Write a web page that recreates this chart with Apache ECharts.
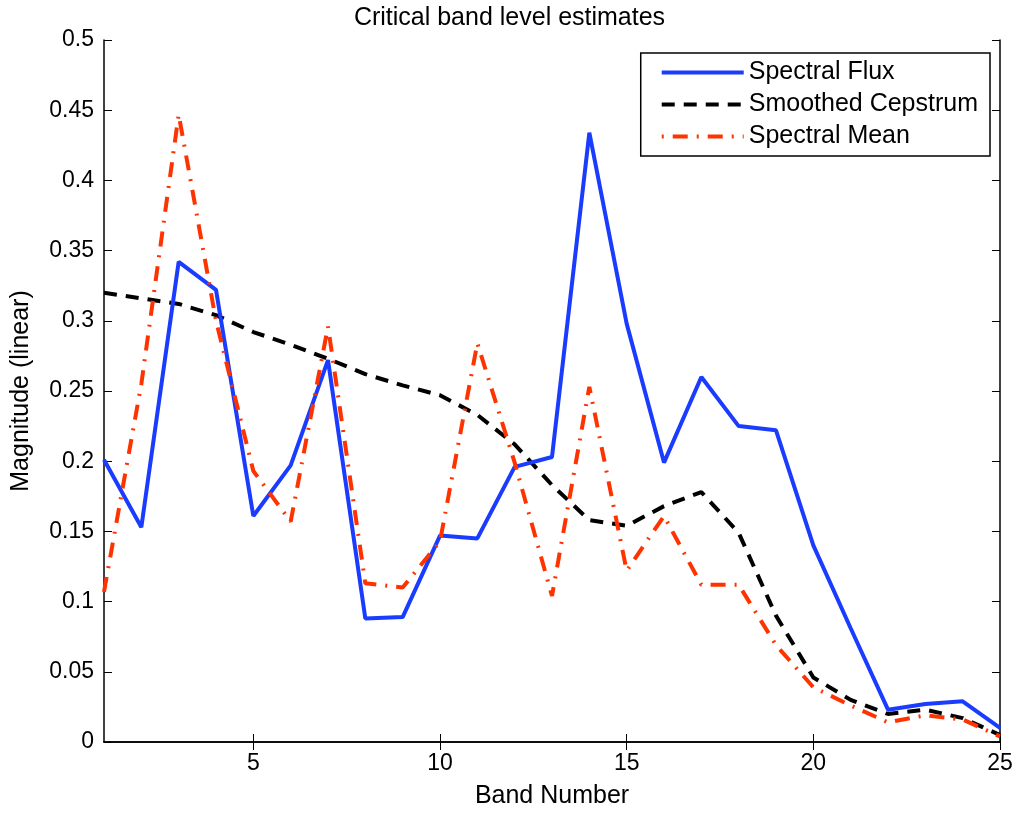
<!DOCTYPE html>
<html>
<head>
<meta charset="utf-8">
<script src="https://cdn.jsdelivr.net/npm/echarts@6/dist/echarts.min.js"></script>
<style>
  html, body { margin: 0; padding: 0; background: #fff; }
  #chart { width: 1019px; height: 814px; }
</style>
</head>
<body>
<div id="chart"></div>
<script>
const bands = [1, 2, 3, 4, 5, 6, 7, 8, 9, 10, 11, 12, 13, 14, 15, 16, 17, 18, 19, 20, 21, 22, 23, 24, 25];
const spectralFlux = [0.201, 0.153, 0.342, 0.322, 0.161, 0.197, 0.272, 0.088, 0.089, 0.147, 0.145, 0.196, 0.203, 0.434, 0.298, 0.199, 0.260, 0.225, 0.222, 0.140, 0.081, 0.023, 0.027, 0.029, 0.010];
const smoothedCepstrum = [0.320, 0.316, 0.312, 0.304, 0.292, 0.283, 0.273, 0.262, 0.254, 0.247, 0.233, 0.212, 0.183, 0.158, 0.154, 0.168, 0.178, 0.149, 0.090, 0.046, 0.030, 0.020, 0.023, 0.017, 0.005];
const spectralMean = [0.107, 0.255, 0.447, 0.300, 0.193, 0.157, 0.296, 0.113, 0.110, 0.143, 0.284, 0.199, 0.104, 0.253, 0.122, 0.161, 0.112, 0.112, 0.069, 0.039, 0.026, 0.014, 0.019, 0.016, 0.004];
const xTicks = [5, 10, 15, 20, 25];

const font = 'Liberation Sans, Arial, Helvetica, sans-serif';
const blue = '#1a3cff';
const red = '#ff3300';
const dashBlack = [13, 9];
const dashRed = [15, 9, 2, 9];
const chart = echarts.init(document.getElementById('chart'));

function pairs(ys) {
  return bands.map((b, i) => [b, ys[i]]);
}

const axisLine = { show: true, lineStyle: { color: '#000', width: 1.5 } };
const tickStyle = { color: '#000', width: 1 };

chart.setOption({
  animation: false,
  title: {
    text: 'Critical band level estimates',
    left: 'center',
    top: 1,
    textStyle: { fontFamily: font, fontSize: 25, fontWeight: 'normal', color: '#000' }
  },
  legend: {
    orient: 'vertical',
    right: 29,
    top: 53,
    padding: [7, 12, 7, 19],
    itemGap: 7,
    itemWidth: 82,
    itemHeight: 14,
    borderColor: '#000',
    borderWidth: 1.5,
    backgroundColor: '#fff',
    itemStyle: { opacity: 0 },
    textStyle: { fontFamily: font, fontSize: 25, color: '#000' },
    data: [
      { name: 'Spectral Flux', lineStyle: { width: 4, color: blue, type: 'solid' } },
      { name: 'Smoothed Cepstrum', lineStyle: { width: 4, color: '#000', type: dashBlack } },
      { name: 'Spectral Mean', lineStyle: { width: 4, color: red, type: [2, 9, 15, 9] } }
    ]
  },
  grid: { left: 104, right: 19, top: 40, bottom: 69 },
  xAxis: [{
    type: 'value',
    min: 1,
    max: 25,
    name: 'Band Number',
    nameLocation: 'middle',
    nameGap: 42,
    nameTextStyle: { fontFamily: font, fontSize: 25, color: '#000' },
    axisLine: axisLine,
    axisTick: { inside: true, length: 8, customValues: xTicks, lineStyle: tickStyle },
    axisLabel: { customValues: xTicks, fontFamily: font, fontSize: 23, color: '#000', margin: 10 },
    splitLine: { show: false }
  }, {
    type: 'value',
    position: 'top',
    min: 1,
    max: 25,
    axisLine: axisLine,
    axisTick: { inside: true, length: 8, customValues: xTicks, lineStyle: tickStyle },
    axisLabel: { show: false },
    splitLine: { show: false }
  }],
  yAxis: [{
    type: 'value',
    min: 0,
    max: 0.5,
    interval: 0.05,
    name: 'Magnitude (linear)',
    nameLocation: 'middle',
    nameGap: 70,
    nameTextStyle: { fontFamily: font, fontSize: 25, color: '#000' },
    axisLine: axisLine,
    axisTick: { inside: true, length: 8, lineStyle: tickStyle },
    axisLabel: { fontFamily: font, fontSize: 23, color: '#000', margin: 10 },
    splitLine: { show: false }
  }, {
    type: 'value',
    position: 'right',
    min: 0,
    max: 0.5,
    interval: 0.05,
    axisLine: axisLine,
    axisTick: { inside: true, length: 8, lineStyle: tickStyle },
    axisLabel: { show: false },
    splitLine: { show: false }
  }],
  series: [{
    name: 'Spectral Flux',
    type: 'line',
    data: pairs(spectralFlux),
    symbol: 'none',
    color: blue,
    lineStyle: { width: 4, color: blue },
    z: 3
  }, {
    name: 'Smoothed Cepstrum',
    type: 'line',
    data: pairs(smoothedCepstrum),
    symbol: 'none',
    color: '#000',
    lineStyle: { width: 4, color: '#000', type: dashBlack },
    z: 2
  }, {
    name: 'Spectral Mean',
    type: 'line',
    data: pairs(spectralMean),
    symbol: 'none',
    color: red,
    lineStyle: { width: 4, color: red, type: dashRed },
    z: 4
  }]
});
</script>
</body>
</html>
